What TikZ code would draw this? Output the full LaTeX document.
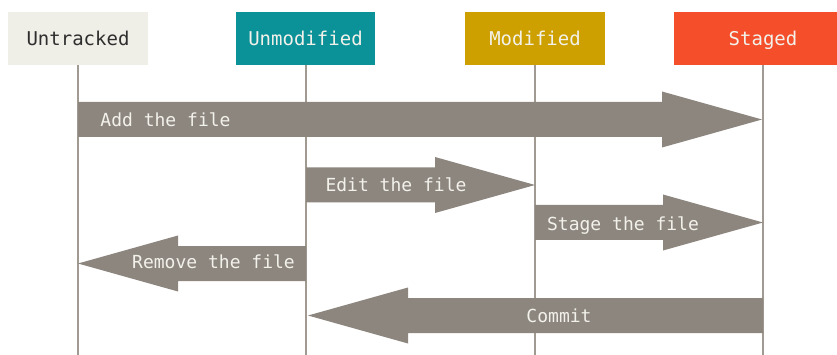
\documentclass[tikz,border=0pt]{standalone}
\usepackage{fontspec}
\newfontfamily\monofnt{DejaVu Sans Mono}
\definecolor{untrackbg}{HTML}{EFEEE7}
\definecolor{unmodbg}{HTML}{0B9198}
\definecolor{modbg}{HTML}{CDA000}
\definecolor{stagebg}{HTML}{F44E2B}
\definecolor{arrowgray}{HTML}{8C867F}
\definecolor{lifegray}{HTML}{A09A93}
\definecolor{lighttext}{HTML}{F2F1EA}
\definecolor{darktext}{HTML}{2E2E2E}
\tikzset{
  statebox/.style={minimum height=53pt, inner sep=0pt, text height=13.5pt, text depth=0pt,
    font=\monofnt\fontsize{19}{19}\selectfont, text=lighttext},
  lifeline/.style={draw=lifegray, line width=1.3pt},
  bigarrow/.style={fill=arrowgray},
  arrowlabel/.style={anchor=base, inner sep=0pt, text=lighttext, font=\monofnt\fontsize{18}{18}\selectfont},
}
\newcommand\rightbigarrow[3]{% x1, x2 (tip), y
  \fill[bigarrow] (#1,#3-17.5) -- (#2-100,#3-17.5) -- (#2-100,#3-28) -- (#2,#3)
    -- (#2-100,#3+28) -- (#2-100,#3+17.5) -- (#1,#3+17.5) -- cycle;}
\newcommand\leftbigarrow[3]{% x1 (start, right), x2 (tip, left), y
  \fill[bigarrow] (#1,#3-17.5) -- (#2+100,#3-17.5) -- (#2+100,#3-28) -- (#2,#3)
    -- (#2+100,#3+28) -- (#2+100,#3+17.5) -- (#1,#3+17.5) -- cycle;}
\begin{document}
\begin{tikzpicture}[x=1pt,y=-1pt]
\useasboundingbox (0,0) rectangle (837,355);
% state boxes
\node[statebox, fill=untrackbg, text=darktext, minimum width=140pt] (untracked) at (78,38.5) {Untracked};
\node[statebox, fill=unmodbg, minimum width=139pt] (unmodified) at (305.5,38.5) {Unmodified};
\node[statebox, fill=modbg, minimum width=140pt] (modified) at (535,38.5) {Modified};
\node[statebox, fill=stagebg, minimum width=178pt] (staged) at (763,38.5) {Staged};
% lifeline ends
\coordinate (untrackedend) at (78,355);
\coordinate (unmodifiedend) at (306,355);
\coordinate (modifiedend) at (535,355);
\coordinate (stagedend) at (763,355);
\draw[lifeline] (untracked.south) -- (untrackedend);
\draw[lifeline] ([xshift=0.5pt]unmodified.south) -- (unmodifiedend);
\draw[lifeline] (modified.south) -- (modifiedend);
\draw[lifeline] (staged.south) -- (stagedend);
% arrows
\rightbigarrow{78}{762}{119.5}
\rightbigarrow{306}{535}{185}
\rightbigarrow{535}{763}{222.5}
\leftbigarrow{306}{78}{263.5}
\leftbigarrow{763}{308}{315.5}
% labels
\node[arrowlabel] (addlbl) at (165.5,127) {Add the file};
\node[arrowlabel] (editlbl) at (396,192) {Edit the file};
\node[arrowlabel] (stagelbl) at (623,230) {Stage the file};
\node[arrowlabel] (removelbl) at (213.5,269) {Remove the file};
\node[arrowlabel] (commitlbl) at (559,322) {Commit};
\end{tikzpicture}
\end{document}
